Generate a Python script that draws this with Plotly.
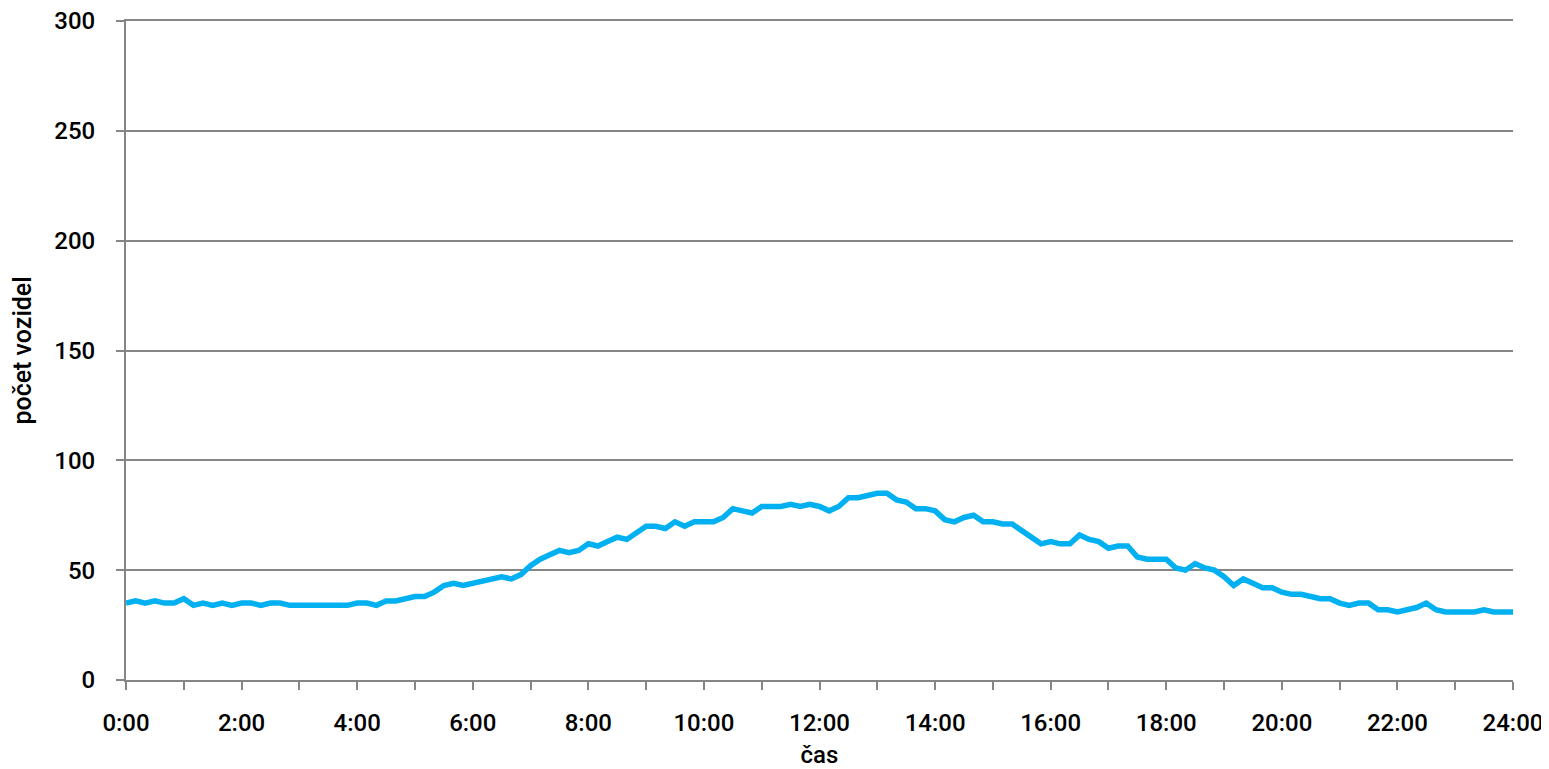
import plotly.graph_objects as go

# Values read at 10-minute steps from 0:00 to 24:00
step_minutes = 10
vehicles = [
    35, 36, 35, 36, 35, 35,   # 0:00-0:50
    37, 34, 35, 34, 35, 34,   # 1:00
    35, 35, 34, 35, 35, 34,   # 2:00
    34, 34, 34, 34, 34, 34,   # 3:00
    35, 35, 34, 36, 36, 37,   # 4:00
    38, 38, 40, 43, 44, 43,   # 5:00
    44, 45, 46, 47, 46, 48,   # 6:00
    52, 55, 57, 59, 58, 59,   # 7:00
    62, 61, 63, 65, 64, 67,   # 8:00
    70, 70, 69, 72, 70, 72,   # 9:00
    72, 72, 74, 78, 77, 76,   # 10:00
    79, 79, 79, 80, 79, 80,   # 11:00
    79, 77, 79, 83, 83, 84,   # 12:00
    85, 85, 82, 81, 78, 78,   # 13:00
    77, 73, 72, 74, 75, 72,   # 14:00
    72, 71, 71, 68, 65, 62,   # 15:00
    63, 62, 62, 66, 64, 63,   # 16:00
    60, 61, 61, 56, 55, 55,   # 17:00
    55, 51, 50, 53, 51, 50,   # 18:00
    47, 43, 46, 44, 42, 42,   # 19:00
    40, 39, 39, 38, 37, 37,   # 20:00
    35, 34, 35, 35, 32, 32,   # 21:00
    31, 32, 33, 35, 32, 31,   # 22:00
    31, 31, 31, 32, 31, 31,   # 23:00
    31,                       # 24:00
]
minutes = [i * step_minutes for i in range(len(vehicles))]

tick_minutes = [0, 120, 240, 360, 480, 600, 720, 840, 960, 1080, 1200, 1320, 1440]
tick_labels = ["0:00", "2:00", "4:00", "6:00", "8:00", "10:00", "12:00",
               "14:00", "16:00", "18:00", "20:00", "22:00", "24:00"]
y_ticks = [0, 50, 100, 150, 200, 250, 300]

x_title = "čas"
y_title = "počet vozidel"

font_family = "Roboto, 'Noto Sans', sans-serif"
axis_grey = "#868686"

fig = go.Figure()
fig.add_trace(go.Scatter(
    x=minutes, y=vehicles, mode="lines",
    line=dict(color="#00B0F0", width=5.5),
    hoverinfo="skip", showlegend=False,
))

fig.update_layout(
    width=1541, height=761,
    margin=dict(l=118, r=36, t=13, b=89),
    paper_bgcolor="white", plot_bgcolor="white",
    font=dict(family=font_family, size=24, color="#000000", weight=500),
    showlegend=False,
)

fig.update_xaxes(
    range=[0, 1440], automargin=False,
    tickmode="array", tickvals=tick_minutes, ticktext=tick_labels,
    ticks="outside", ticklen=8, tickwidth=2, tickcolor=axis_grey,
    minor=dict(dtick=60, tick0=0, ticks="outside", ticklen=8,
               tickwidth=2, tickcolor=axis_grey, showgrid=False),
    showline=True, mirror=True, linecolor=axis_grey, linewidth=2,
    showgrid=False, zeroline=False,
    tickfont=dict(size=24, weight=500),
    ticklabelstandoff=12, ticklabeloverflow="allow",
    title=dict(text=x_title, font=dict(size=24, weight=500), standoff=14),
)

fig.update_yaxes(
    range=[0, 300], automargin=False,
    tickmode="array", tickvals=y_ticks,
    ticks="outside", ticklen=8, tickwidth=2, tickcolor=axis_grey,
    showline=True, linecolor=axis_grey, linewidth=2,
    showgrid=True, gridcolor=axis_grey, gridwidth=2,
    zeroline=False,
    tickfont=dict(size=24, weight=500),
    ticklabelstandoff=16, ticklabeloverflow="allow",
    title=dict(text=y_title, font=dict(size=25, weight=500), standoff=18),
)

fig.write_html("out.html")
